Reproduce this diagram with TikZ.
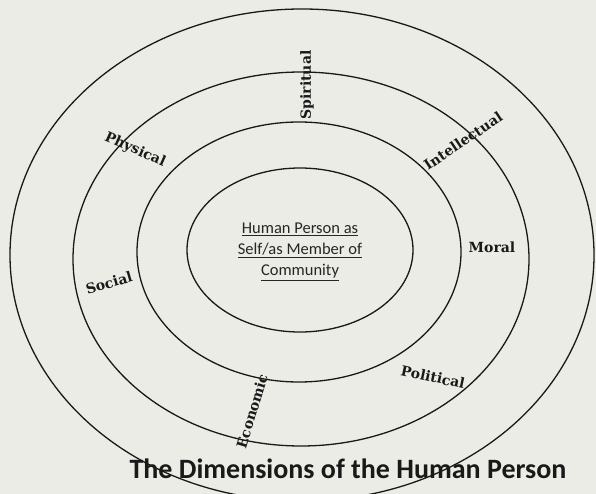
\documentclass[tikz,border=0pt]{standalone}
\usepackage{fontspec}
\setmainfont{Carlito}
\newfontfamily\slabfont{DejaVu Serif}
\begin{document}
\begin{tikzpicture}[x=1pt,y=-1pt,
  ring/.style={draw=black!90, line width=1.3pt},
  dimlabel/.style={font=\slabfont\bfseries\fontsize{14}{14}\selectfont, inner sep=0pt, text=black!90},
  centertext/.style={font=\fontsize{16.5}{21}\selectfont, align=center, text=black!85},
  titletext/.style={font=\bfseries\fontsize{28}{28}\selectfont, text=black!90}]
\definecolor{paper}{RGB}{236,236,230}
\fill[paper] (0,0) rectangle (596,494);
\useasboundingbox (0,0) rectangle (596,494);
% rings
\draw[ring] (302,255) ellipse [x radius=292, y radius=246];
\draw[ring] (301,259) ellipse [x radius=228, y radius=187];
\draw[ring] (299,252) ellipse [x radius=162, y radius=130];
\draw[ring] (300,250) ellipse [x radius=113, y radius=82];
% centre
\node[centertext] (core) at (300,252) {\underline{Human Person as}\\\underline{Self/as Member of}\\\underline{Community}};
% labels
\node[dimlabel, rotate=90] (spiritual) at (307,85) {Spiritual};
\node[dimlabel, rotate=-24] (physical) at (135,150) {Physical};
\node[dimlabel, rotate=34] (intellectual) at (463,141) {Intellectual};
\node[dimlabel] (moral) at (492,247) {Moral};
\node[dimlabel, rotate=16] (social) at (109,283) {Social};
\node[dimlabel, rotate=-12] (political) at (433,377) {Political};
\node[dimlabel, rotate=73] (economic) at (252,411) {Economic};
% title
\node[titletext] (title) at (348,469) {The Dimensions of the Human Person};
\end{tikzpicture}
\end{document}
